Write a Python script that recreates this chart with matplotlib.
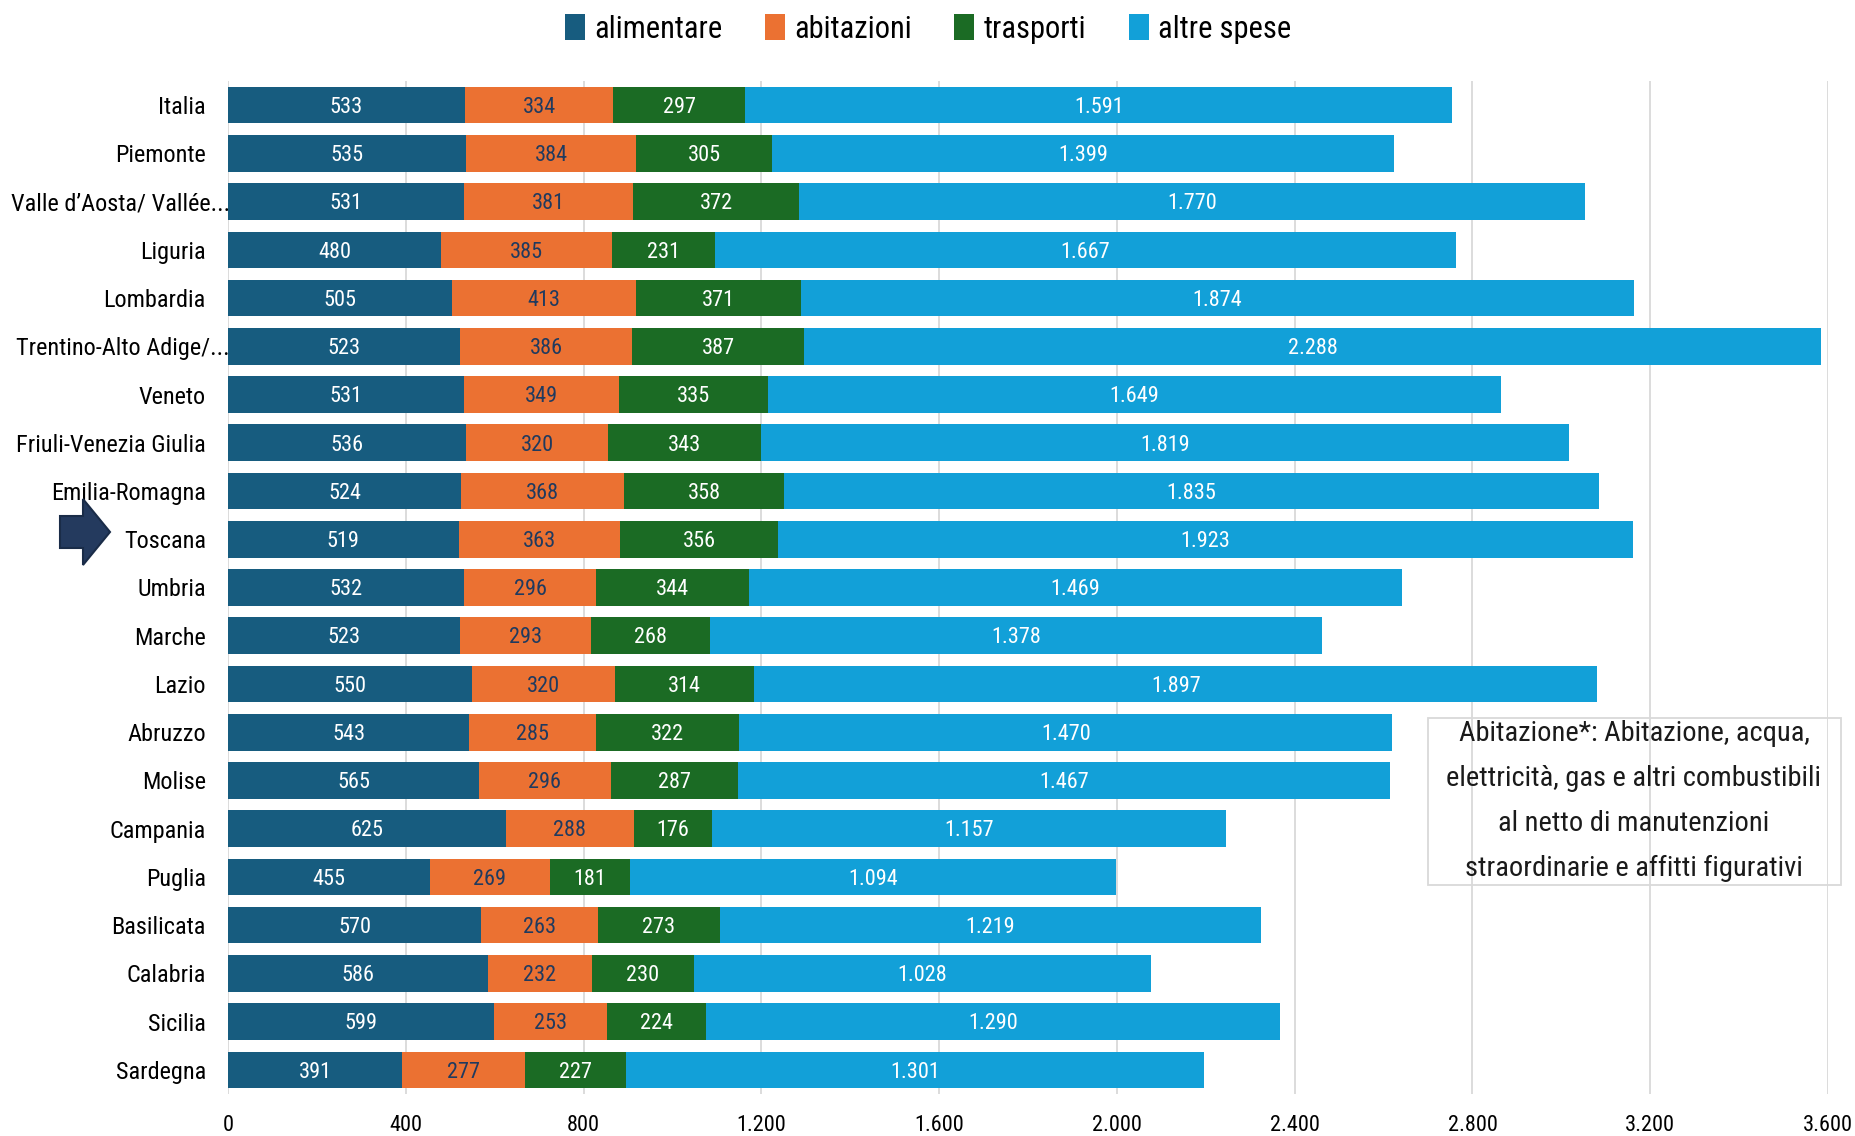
import matplotlib
matplotlib.use("Agg")
import matplotlib.pyplot as plt
from matplotlib.patches import Polygon, Rectangle
from matplotlib.ticker import FuncFormatter
from matplotlib.transforms import ScaledTranslation
import numpy as np

FONT = ['Liberation Sans Narrow', 'Roboto Condensed', 'DejaVu Sans Condensed', 'Liberation Sans']
plt.rcParams['font.family'] = FONT

# data
regioni = ['Italia', 'Piemonte', 'Valle d\u2019Aosta/ Vall\u00e9e...', 'Liguria', 'Lombardia',
           'Trentino-Alto Adige/...', 'Veneto', 'Friuli-Venezia Giulia', 'Emilia-Romagna',
           'Toscana', 'Umbria', 'Marche', 'Lazio', 'Abruzzo', 'Molise', 'Campania', 'Puglia',
           'Basilicata', 'Calabria', 'Sicilia', 'Sardegna']
alimentare = [533, 535, 531, 480, 505, 523, 531, 536, 524, 519, 532, 523, 550, 543, 565, 625, 455, 570, 586, 599, 391]
abitazioni = [334, 384, 381, 385, 413, 386, 349, 320, 368, 363, 296, 293, 320, 285, 296, 288, 269, 263, 232, 253, 277]
trasporti = [297, 305, 372, 231, 371, 387, 335, 343, 358, 356, 344, 268, 314, 322, 287, 176, 181, 273, 230, 224, 227]
altre_spese = [1591, 1399, 1770, 1667, 1874, 2288, 1649, 1819, 1835, 1923, 1469, 1378, 1897, 1470, 1467, 1157, 1094, 1219, 1028, 1290, 1301]
serie_nomi = ['alimentare', 'abitazioni', 'trasporti', 'altre spese']
nota = ("Abitazione*: Abitazione, acqua,\nelettricit\u00e0, gas e altri combustibili\n"
        "al netto di manutenzioni\nstraordinarie e affitti figurativi")

colori = ['#175c7f', '#eb7132', '#1b6b24', '#12a0d8']
col_testo = ['white', '#1f3a5f', 'white', 'white']

def fmt(v):
    return f'{int(v):,}'.replace(',', '.')

W, H = 1856, 1136
fig = plt.figure(figsize=(W / 100, H / 100), dpi=100)
ax = fig.add_axes([228 / W, 1 - 1094 / H, 1600 / W, (1094 - 81) / H])

y = np.arange(len(regioni))
left = np.zeros(len(regioni))
for vals, nome, c, tc in zip([alimentare, abitazioni, trasporti, altre_spese], serie_nomi, colori, col_testo):
    vals = np.array(vals)
    bars = ax.barh(y, vals, left=left, height=0.76, color=c, label=nome, zorder=3)
    labs = ax.bar_label(bars, labels=[fmt(v) for v in vals], label_type='center', color=tc, fontsize=16)
    for t in labs:
        t.xyann = (0, -1.6)   # nudge down a little
    left += vals

ax.set_ylim(len(regioni) - 0.5, -0.5)
ax.set_xlim(0, 3600)
ax.set_xticks(np.arange(0, 3601, 400))
ax.xaxis.set_major_formatter(FuncFormatter(lambda v, p: fmt(v)))
ax.set_yticks(y)
ax.set_yticklabels(regioni)
ax.grid(axis='x', color='#d9d9d9', lw=1.3, zorder=0)
ax.set_axisbelow(True)
for s in ax.spines.values():
    s.set_visible(False)
ax.tick_params(axis='y', length=0, pad=16, labelsize=17.5)
ax.tick_params(axis='x', length=0, pad=15, labelsize=16)

# long labels sit further right (truncated in the original)
for lab in ax.get_yticklabels():
    if lab.get_text().endswith('...'):
        lab.set_transform(lab.get_transform() + ScaledTranslation(24 / 100, 0, fig.dpi_scale_trans))

ax.legend(loc='center', bbox_to_anchor=(0.5, 1 - 29 / H), bbox_transform=fig.transFigure,
          ncol=4, frameon=False, fontsize=22, handlelength=0.65, handleheight=0.9,
          handletextpad=0.3, columnspacing=1.4)

# arrow pointing at Toscana
pts = [(60, 516), (83, 516), (83, 499), (110, 532), (83, 565), (83, 548), (60, 548)]
fig.patches.append(Polygon([(px / W, 1 - py / H) for px, py in pts], closed=True,
                           transform=fig.transFigure, facecolor='#243a5e', edgecolor='#1a2c48', lw=1.5))

# note box
fig.patches.append(Rectangle((1428 / W, 1 - 885 / H), 413 / W, 167 / H, transform=fig.transFigure,
                             fill=False, edgecolor='#d9d9d9', lw=1.3))
fig.text(1634 / W, 1 - 801 / H, nota, ha='center', va='center', fontsize=20.5, linespacing=1.84, color='#1a1a1a')

fig.savefig('out.png', dpi=100)
